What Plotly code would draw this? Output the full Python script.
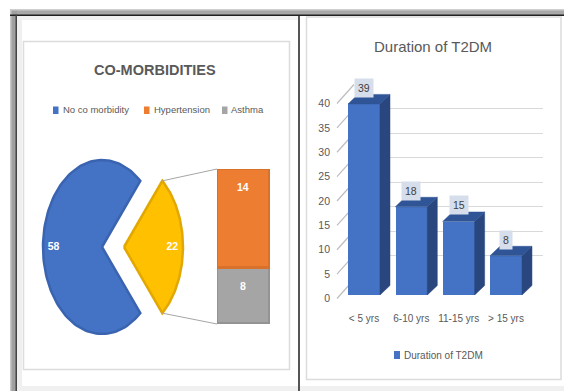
import numpy as np
import plotly.graph_objects as go

# ---------------- data ----------------
comorb_labels = ["No co morbidity", "Hypertension", "Asthma"]
comorb_values = [58, 14, 8]
comorb_colors = ["#4472C4", "#ED7D31", "#A5A5A5"]

duration_cats = ["< 5 yrs", "6-10 yrs", "11-15 yrs", "> 15 yrs"]
duration_vals = [39, 18, 15, 8]
duration_ticks = [0, 5, 10, 15, 20, 25, 30, 35, 40]

# ---------------- layout helpers ----------------
W, H = 564, 391
FONT = "Liberation Sans, Arial, sans-serif"
TXT = "#595959"


def dx(px0, px1):
    return [px0 / W, px1 / W]


def dy(py_top, py_bot):
    return [1 - py_bot / H, 1 - py_top / H]


def pxx(px):
    return px / W


def pyy(py):
    return 1 - py / H


fig = go.Figure()

# ---------------- pie-of-bar (left) ----------------
PIE_CX, PIE_CY = 102, H - 247      # pie axes use pixel-like units
RX, RY = 59, 87
EXPLODE = 22
main_val = comorb_values[0]
other_val = sum(comorb_values[1:])
pie_total = main_val + other_val
main_span = 360.0 * main_val / pie_total
other_span = 360.0 * other_val / pie_total


def wedge(cx, cy, a0, a1):
    th = np.radians(np.linspace(a0, a1, 120))
    xs = [cx] + list(cx + RX * np.cos(th)) + [cx]
    ys = [cy] + list(cy + RY * np.sin(th)) + [cy]
    return xs, ys


bx, by = wedge(PIE_CX, PIE_CY, 180 - main_span / 2, 180 + main_span / 2)
fig.add_trace(go.Scatter(x=bx, y=by, mode="lines", fill="toself",
                         fillcolor=comorb_colors[0],
                         line=dict(color="#3A64B0", width=2.5),
                         xaxis="x", yaxis="y", hoverinfo="skip",
                         showlegend=False, name=comorb_labels[0]))
ox = PIE_CX + EXPLODE
yx, yy = wedge(ox, PIE_CY, -other_span / 2, other_span / 2)
fig.add_trace(go.Scatter(x=yx, y=yy, mode="lines", fill="toself",
                         fillcolor="#FFC000",
                         line=dict(color="#E0A800", width=2.5),
                         xaxis="x", yaxis="y", hoverinfo="skip",
                         showlegend=False, name="Other"))

# connector lines from the "other" wedge to the bar
BAR_X0, BAR_X1 = 217, 270
BAR_TOP, BAR_BOT = 169, 324
tip = np.radians(other_span / 2)
tx = ox + RX * np.cos(tip)
fig.add_trace(go.Scatter(
    x=[tx, BAR_X0, None, tx, BAR_X0],
    y=[PIE_CY + RY * np.sin(tip), H - BAR_TOP, None,
       PIE_CY - RY * np.sin(tip), H - BAR_BOT],
    mode="lines", line=dict(color="#A6A6A6", width=1),
    xaxis="x", yaxis="y", hoverinfo="skip", showlegend=False))

# pie labels
LR = 0.82
fig.add_trace(go.Scatter(
    x=[PIE_CX - LR * RX, ox + LR * RX], y=[PIE_CY, PIE_CY],
    mode="text", text=["<b>%d</b>" % main_val, "<b>%d</b>" % other_val],
    textfont=dict(family=FONT, size=10.5, color="white"),
    xaxis="x", yaxis="y", hoverinfo="skip", showlegend=False))

# stacked bar for the split of "other"
fig.add_trace(go.Bar(x=[0], y=[comorb_values[2]], width=1,
                     marker=dict(color=comorb_colors[2],
                                 line=dict(color="#939393", width=3)),
                     xaxis="x2", yaxis="y2", name=comorb_labels[2],
                     showlegend=False, hoverinfo="skip"))
fig.add_trace(go.Bar(x=[0], y=[comorb_values[1]], width=1,
                     marker=dict(color=comorb_colors[1],
                                 line=dict(color="#D8712C", width=3)),
                     xaxis="x2", yaxis="y2", name=comorb_labels[1],
                     showlegend=False, hoverinfo="skip"))

annotations = []
cum = 0
for v in [comorb_values[2], comorb_values[1]]:
    cum += v
    annotations.append(dict(x=0, y=cum, xref="x2", yref="y2", yshift=-18,
                            xanchor="center", yanchor="middle",
                            text="<b>%d</b>" % v, showarrow=False,
                            font=dict(family=FONT, size=10.5, color="white")))

# ---------------- 3D column chart (right) ----------------
# back-wall grid
fig.add_trace(go.Scatter(x=[], y=[], xaxis="x3", yaxis="y3",
                         showlegend=False, hoverinfo="skip"))
# side-wall lines (front label axis)
SW = 3.9
sx, sy = [], []
for t in duration_ticks:
    sx += [337, 354, None]
    sy += [t, t + SW, None]
fig.add_trace(go.Scatter(x=sx, y=sy, mode="lines",
                         line=dict(color="#BDBDBD", width=1.2),
                         xaxis="x4", yaxis="y4", showlegend=False,
                         hoverinfo="skip"))

# columns
BW = 0.676
DX, DY = 0.211, 1.94
xs = list(range(len(duration_cats)))
fig.add_trace(go.Bar(x=xs, y=duration_vals, width=BW,
                     marker=dict(color="#4472C4", line=dict(width=0)),
                     xaxis="x5", yaxis="y5", name="Duration of T2DM",
                     showlegend=False, hoverinfo="skip"))
sidex, sidey, topx, topy = [], [], [], []
for i, v in zip(xs, duration_vals):
    r = i + BW / 2
    l = i - BW / 2
    sidex += [r, r + DX, r + DX, r, r, None]
    sidey += [0, DY, v + DY, v, 0, None]
    topx += [l, l + DX, r + DX, r, l, None]
    topy += [v, v + DY, v + DY, v, v, None]
fig.add_trace(go.Scatter(x=sidex, y=sidey, mode="lines", fill="toself",
                         fillcolor="#29467F", line=dict(width=0.5, color="#29467F"),
                         xaxis="x5", yaxis="y5", showlegend=False,
                         hoverinfo="skip"))
fig.add_trace(go.Scatter(x=topx, y=topy, mode="lines", fill="toself",
                         fillcolor="#2F5597", line=dict(width=0.5, color="#2F5597"),
                         xaxis="x5", yaxis="y5", showlegend=False,
                         hoverinfo="skip"))

for i, v in zip(xs, duration_vals):
    annotations.append(dict(x=i, y=v, xref="x5", yref="y5", yshift=16,
                            xanchor="center", yanchor="middle",
                            text=str(v), showarrow=False, bgcolor="#D6DEEC",
                            borderpad=3,
                            font=dict(family=FONT, size=10.5, color="#404040")))

# ---------------- titles & legends ----------------
annotations.append(dict(x=pxx(155), y=pyy(70), xref="paper", yref="paper",
                        xanchor="center", yanchor="middle",
                        text="<b>CO-MORBIDITIES</b>", showarrow=False,
                        font=dict(family=FONT, size=14.5, color=TXT)))
annotations.append(dict(x=pxx(433), y=pyy(46), xref="paper", yref="paper",
                        xanchor="center", yanchor="middle",
                        text="Duration of T2DM", showarrow=False,
                        font=dict(family=FONT, size=15, color=TXT)))

shapes = []
leg_left = [(53, 61), (144, 152), (222, 229)]
for (sqx, tx_), lab, col in zip(leg_left, comorb_labels, comorb_colors):
    shapes.append(dict(type="rect", xref="paper", yref="paper",
                       x0=pxx(sqx), x1=pxx(sqx + 5.5), y0=pyy(114), y1=pyy(106.5),
                       fillcolor=col, line=dict(width=0)))
    annotations.append(dict(x=pxx(tx_), y=pyy(110), xref="paper", yref="paper",
                            xanchor="left", yanchor="middle", text=lab,
                            showarrow=False,
                            font=dict(family=FONT, size=9.5, color=TXT)))
shapes.append(dict(type="rect", xref="paper", yref="paper",
                   x0=pxx(394), x1=pxx(400), y0=pyy(359), y1=pyy(351),
                   fillcolor="#4472C4", line=dict(width=0)))
annotations.append(dict(x=pxx(402), y=pyy(355), xref="paper", yref="paper",
                        xanchor="left", yanchor="middle",
                        text="Duration of T2DM", showarrow=False,
                        font=dict(family=FONT, size=10, color=TXT)))

# ---------------- page frame ----------------
def prect(x0, y0, x1, y1, fill=None, line=None, lw=0):
    d = dict(type="rect", xref="paper", yref="paper", layer="below",
             x0=pxx(x0), x1=pxx(x1), y0=pyy(y1), y1=pyy(y0),
             line=dict(width=lw, color=line or "rgba(0,0,0,0)"))
    if fill:
        d["fillcolor"] = fill
    return d


shapes += [
    prect(17, 16, 22, H, fill="#EFEFEF"),
    prect(17, 16, 298, 20, fill="#F3F3F3"),
    prect(17, 386, W, H, fill="#F0F0F0"),
    prect(23.5, 41.5, 289.5, 369.5, line="#DCDCDC", lw=1.5),
    prect(306.5, 17, 561, 379.5, line="#DCDCDC", lw=1.5),
    prect(10, 9, W, 15, fill="#A8A8A8"),
    prect(10, 9, 17, H, fill="#A0A0A0"),
    prect(10, 9, W, 10.5, fill="#CFCFCF"),
    prect(10, 9, 11.5, H, fill="#C8C8C8"),
    prect(10, 14.5, W, 16, fill="#222222"),
    prect(15.5, 14.5, 17, H, fill="#444444"),
    prect(298, 16, 300, H, fill="#555555"),
]

# ---------------- axes ----------------
hidden = dict(visible=False, fixedrange=True, showgrid=False, zeroline=False)
PIE_X0, PIE_X1 = 28, 224
PIE_YT, PIE_YB = 150, 345
Y5_0, Y5_S = 295, 4.9
X5_C, X5_S = 364, 47.33
X5_R = [-0.6, 3.8]
Y4_0, Y4_S = 298.5, 4.875
Y4_R = [-1, 45]

fig.update_layout(
    width=W, height=H, margin=dict(l=0, r=0, t=0, b=0),
    paper_bgcolor="white", plot_bgcolor="rgba(0,0,0,0)",
    barmode="stack", bargap=0, showlegend=False,
    font=dict(family=FONT, color=TXT),
    xaxis=dict(hidden, anchor="y", domain=dx(PIE_X0, PIE_X1), range=[PIE_X0, PIE_X1]),
    yaxis=dict(hidden, anchor="x", domain=dy(PIE_YT, PIE_YB),
               range=[H - PIE_YB, H - PIE_YT]),
    xaxis2=dict(hidden, anchor="y2", domain=dx(BAR_X0, BAR_X1), range=[-0.5, 0.5]),
    yaxis2=dict(hidden, anchor="x2", domain=dy(BAR_TOP, BAR_BOT), range=[0, other_val]),
    xaxis3=dict(hidden, anchor="y3", domain=dx(354, 543), range=[0, 1]),
    yaxis3=dict(anchor="x3", domain=dy(84, 280), range=[0, 40], dtick=5, tick0=0,
                showgrid=True, gridcolor="#D9D9D9", gridwidth=1,
                showticklabels=False, ticks="", zeroline=False,
                showline=False, fixedrange=True),
    xaxis4=dict(hidden, anchor="y4", domain=dx(331, 360), range=[331, 360]),
    yaxis4=dict(anchor="x4", domain=dy(Y4_0 - Y4_R[1] * Y4_S, Y4_0 - Y4_R[0] * Y4_S),
                range=Y4_R, tickvals=duration_ticks,
                ticktext=[str(t) for t in duration_ticks],
                tickfont=dict(family=FONT, size=10.5, color=TXT),
                showgrid=False, zeroline=False, showline=False, ticks="",
                fixedrange=True),
    xaxis5=dict(anchor="y5", domain=dx(X5_C + X5_R[0] * X5_S, X5_C + X5_R[1] * X5_S),
                range=X5_R, tickvals=xs, ticktext=duration_cats, tickangle=0,
                tickfont=dict(family=FONT, size=10, color=TXT),
                ticks="outside", ticklen=14, tickcolor="rgba(0,0,0,0)",
                showgrid=False, zeroline=False, showline=False,
                fixedrange=True),
    yaxis5=dict(hidden, anchor="x5", domain=dy(Y5_0 - 45 * Y5_S, Y5_0), range=[0, 45]),
    annotations=annotations, shapes=shapes,
)

fig.write_html("out.html")
